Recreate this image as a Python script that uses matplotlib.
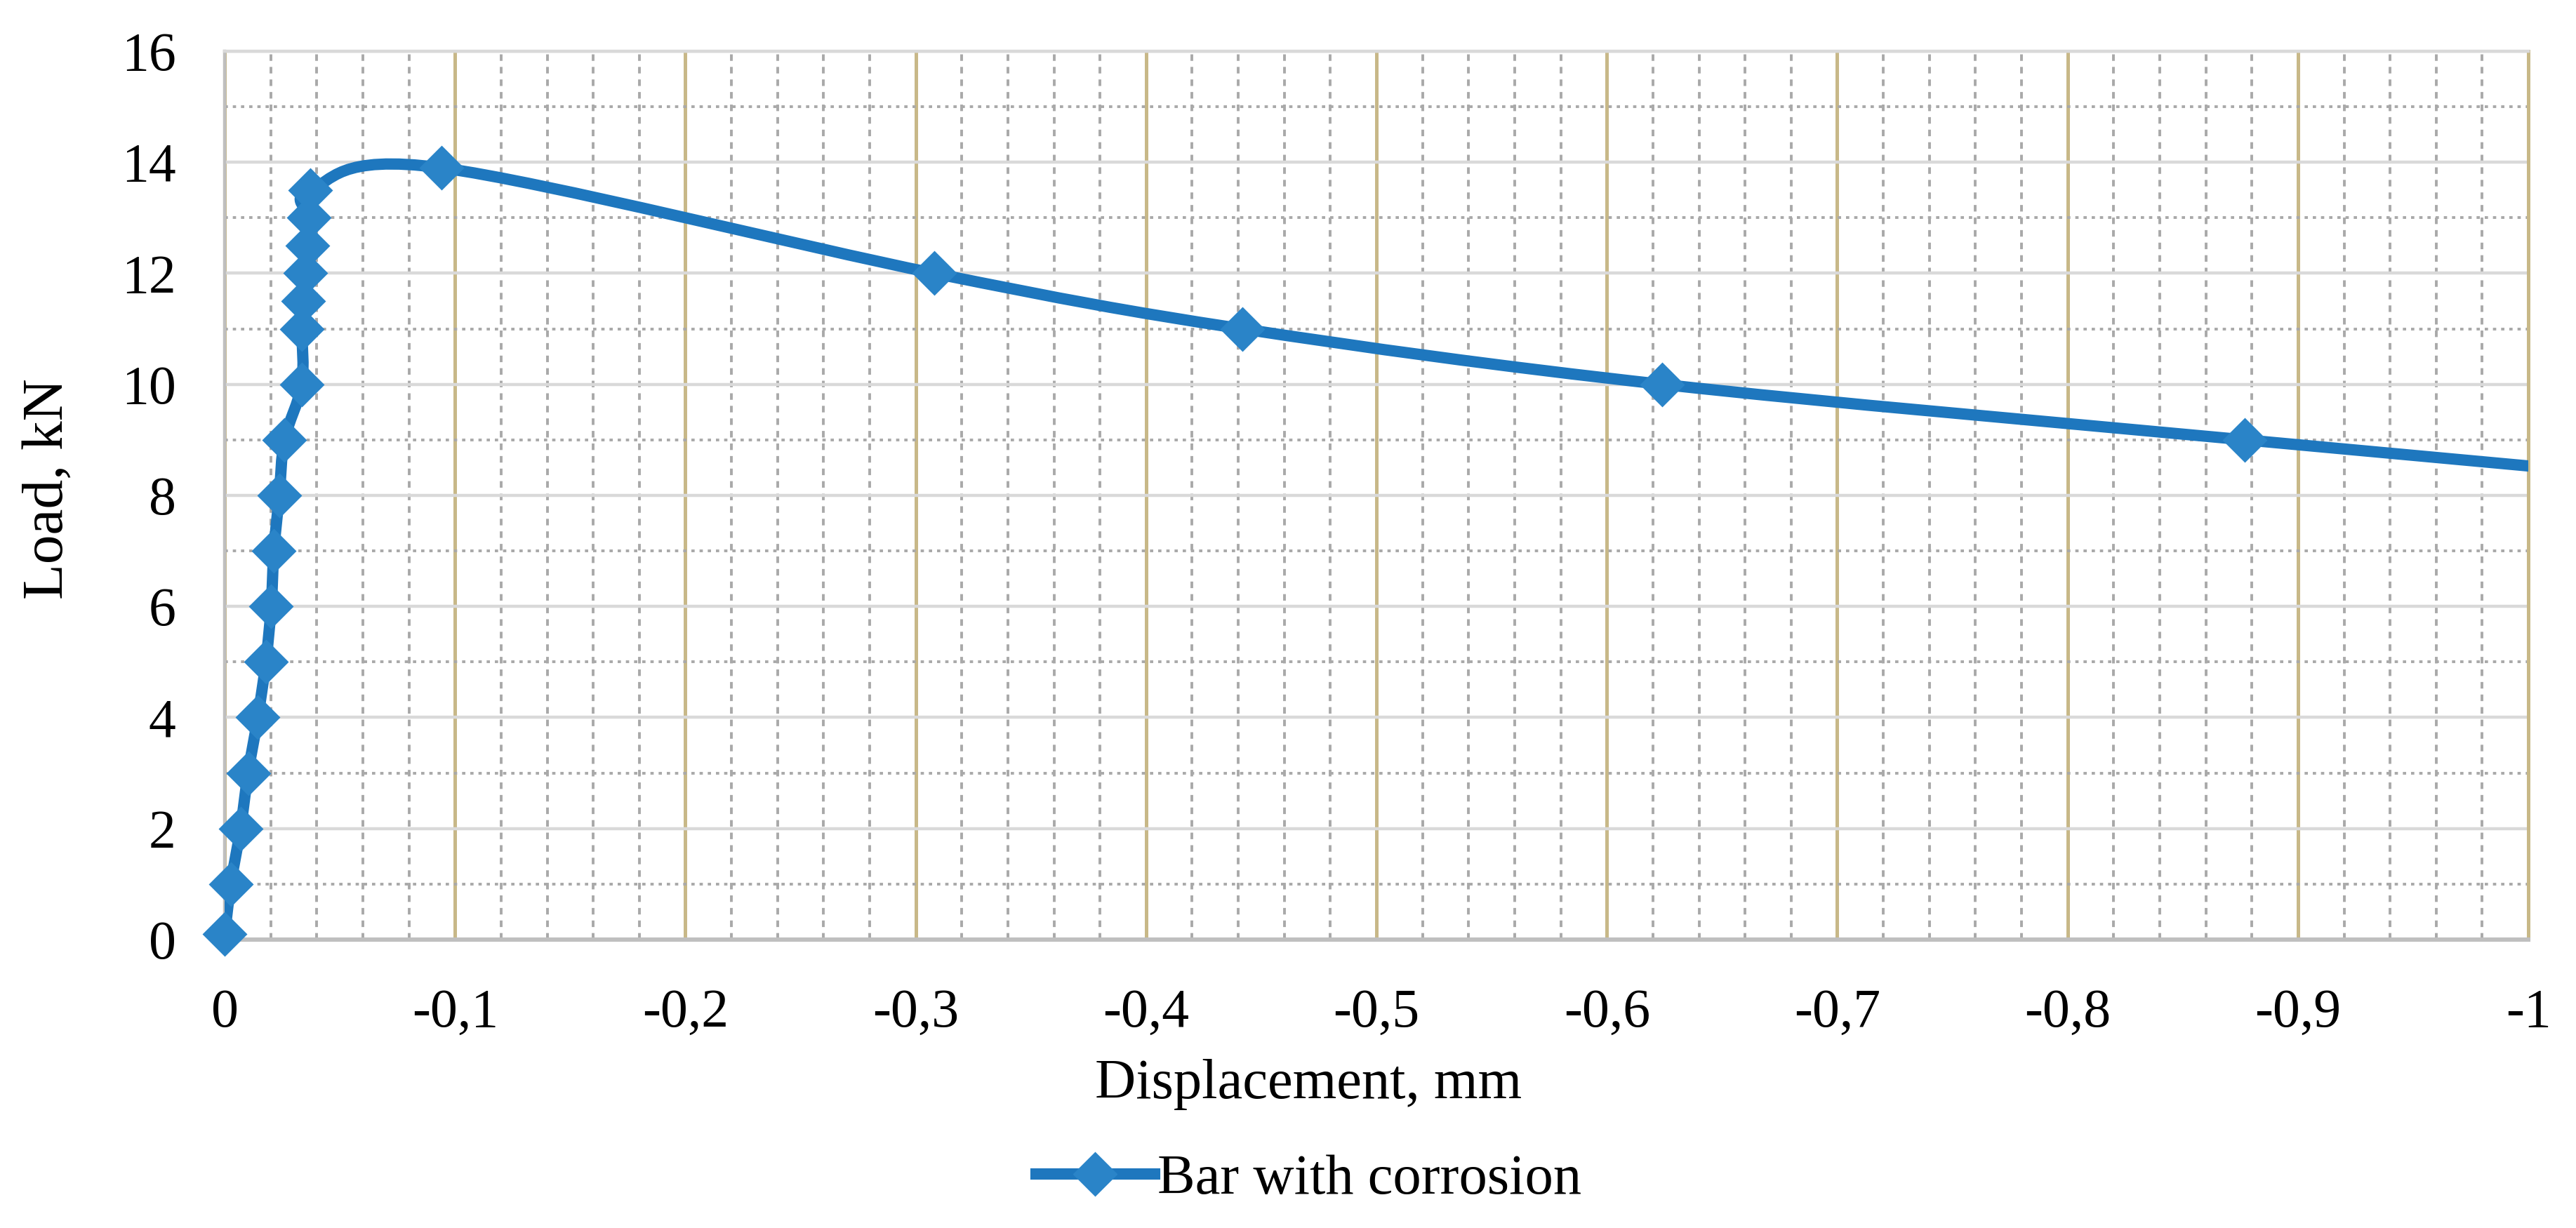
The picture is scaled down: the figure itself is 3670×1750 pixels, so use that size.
import matplotlib
matplotlib.use("Agg")
import matplotlib.pyplot as plt
from matplotlib.path import Path
from matplotlib.patches import PathPatch
from matplotlib.lines import Line2D
from matplotlib.ticker import MultipleLocator

# Load-displacement readings, bar with corrosion
displacement = [0.0, -0.0027, -0.0069, -0.0102, -0.0144, -0.0179, -0.0202, -0.0214,
                -0.0237, -0.026, -0.0335, -0.0335, -0.0342, -0.0349, -0.0358, -0.0365,
                -0.0372, -0.094, -0.308, -0.4417, -0.624, -0.877, -1.14]
load = [0.1, 1, 2, 3, 4, 5, 6, 7, 8, 9, 10, 11, 11.5, 12, 12.5, 13, 13.5,
        13.9, 12, 11, 10, 9, 8]
series_name = "Bar with corrosion"

x_ticks = [0, -0.1, -0.2, -0.3, -0.4, -0.5, -0.6, -0.7, -0.8, -0.9, -1]
x_tick_labels = ["0", "-0,1", "-0,2", "-0,3", "-0,4", "-0,5", "-0,6", "-0,7", "-0,8", "-0,9", "-1"]
y_ticks = [0, 2, 4, 6, 8, 10, 12, 14, 16]
y_tick_labels = ["0", "2", "4", "6", "8", "10", "12", "14", "16"]

LINE_C = "#1E77BE"
MARK_C = "#2A84C8"
TAN = "#C8B888"
GRID_MAJ = "#D9D9D9"
GRID_MIN = "#A9A9A9"

plt.rcParams["font.family"] = ["Liberation Serif", "DejaVu Serif"]

fig = plt.figure(figsize=(18.35, 8.75), dpi=200)
ax = fig.add_axes([0.0872, 0.2349, 0.8943, 0.7234])
ax.set_xlim(0, -1)
ax.set_ylim(0, 16)

# grid like the excel chart
ax.set_axisbelow(True)
ax.xaxis.set_minor_locator(MultipleLocator(0.02))
ax.yaxis.set_minor_locator(MultipleLocator(1))
ax.xaxis.grid(True, which="major", color=TAN, lw=1.8)
ax.yaxis.grid(True, which="major", color=GRID_MAJ, lw=1.6)
ax.xaxis.grid(True, which="minor", color=GRID_MIN, lw=1.4, dashes=(2.4, 2.2))
ax.yaxis.grid(True, which="minor", color=GRID_MIN, lw=1.4, dashes=(1.2, 1.8))

ax.set_xticks(x_ticks)
ax.set_xticklabels(x_tick_labels)
ax.set_yticks(y_ticks)
ax.set_yticklabels(y_tick_labels)
ax.tick_params(which="both", length=0)
ax.tick_params(axis="x", pad=25, labelsize=28)
ax.tick_params(axis="y", pad=25, labelsize=28)

ax.spines["left"].set_color("#BFBFBF")
ax.spines["left"].set_linewidth(1.6)
ax.spines["bottom"].set_color("#BFBFBF")
ax.spines["bottom"].set_linewidth(2.2)
ax.spines["top"].set_color(GRID_MAJ)
ax.spines["top"].set_linewidth(1.6)
ax.spines["right"].set_color(TAN)
ax.spines["right"].set_linewidth(1.8)

# smoothed line (catmull-rom style bezier, as excel does)
n = len(displacement)
verts = [(displacement[0], load[0])]
codes = [Path.MOVETO]
for i in range(n - 1):
    p0 = (displacement[max(i - 1, 0)], load[max(i - 1, 0)])
    p1 = (displacement[i], load[i])
    p2 = (displacement[i + 1], load[i + 1])
    p3 = (displacement[min(i + 2, n - 1)], load[min(i + 2, n - 1)])
    c1 = (p1[0] + (p2[0] - p0[0]) / 6, p1[1] + (p2[1] - p0[1]) / 6)
    c2 = (p2[0] - (p3[0] - p1[0]) / 6, p2[1] - (p3[1] - p1[1]) / 6)
    verts += [c1, c2, p2]
    codes += [Path.CURVE4] * 3
curve = PathPatch(Path(verts, codes), fill=False, edgecolor=LINE_C, lw=5.8,
                  capstyle="round", joinstyle="round", zorder=3)
ax.add_patch(curve)

shown = [i for i in range(n) if displacement[i] >= -1]
ax.plot([displacement[i] for i in shown], [load[i] for i in shown], ls="none",
        marker="D", ms=15.5, color=MARK_C, mec=MARK_C, clip_on=False, zorder=4)

fig.text(0.0188, 0.602, "Load, kN", rotation=90, ha="center", va="center", fontsize=30)
fig.text(0.508, 0.117, "Displacement, mm", ha="center", va="center", fontsize=29)

handle = Line2D([], [], color=LINE_C, lw=5.8, marker="D", ms=15.5, mfc=MARK_C, mec=MARK_C)
fig.legend([handle], [series_name], loc="center", bbox_to_anchor=(0.508, 0.039),
           frameon=False, fontsize=29, handlelength=2.1, handletextpad=0.05,
           borderpad=0.2)

fig.savefig("out.png", dpi=200)
